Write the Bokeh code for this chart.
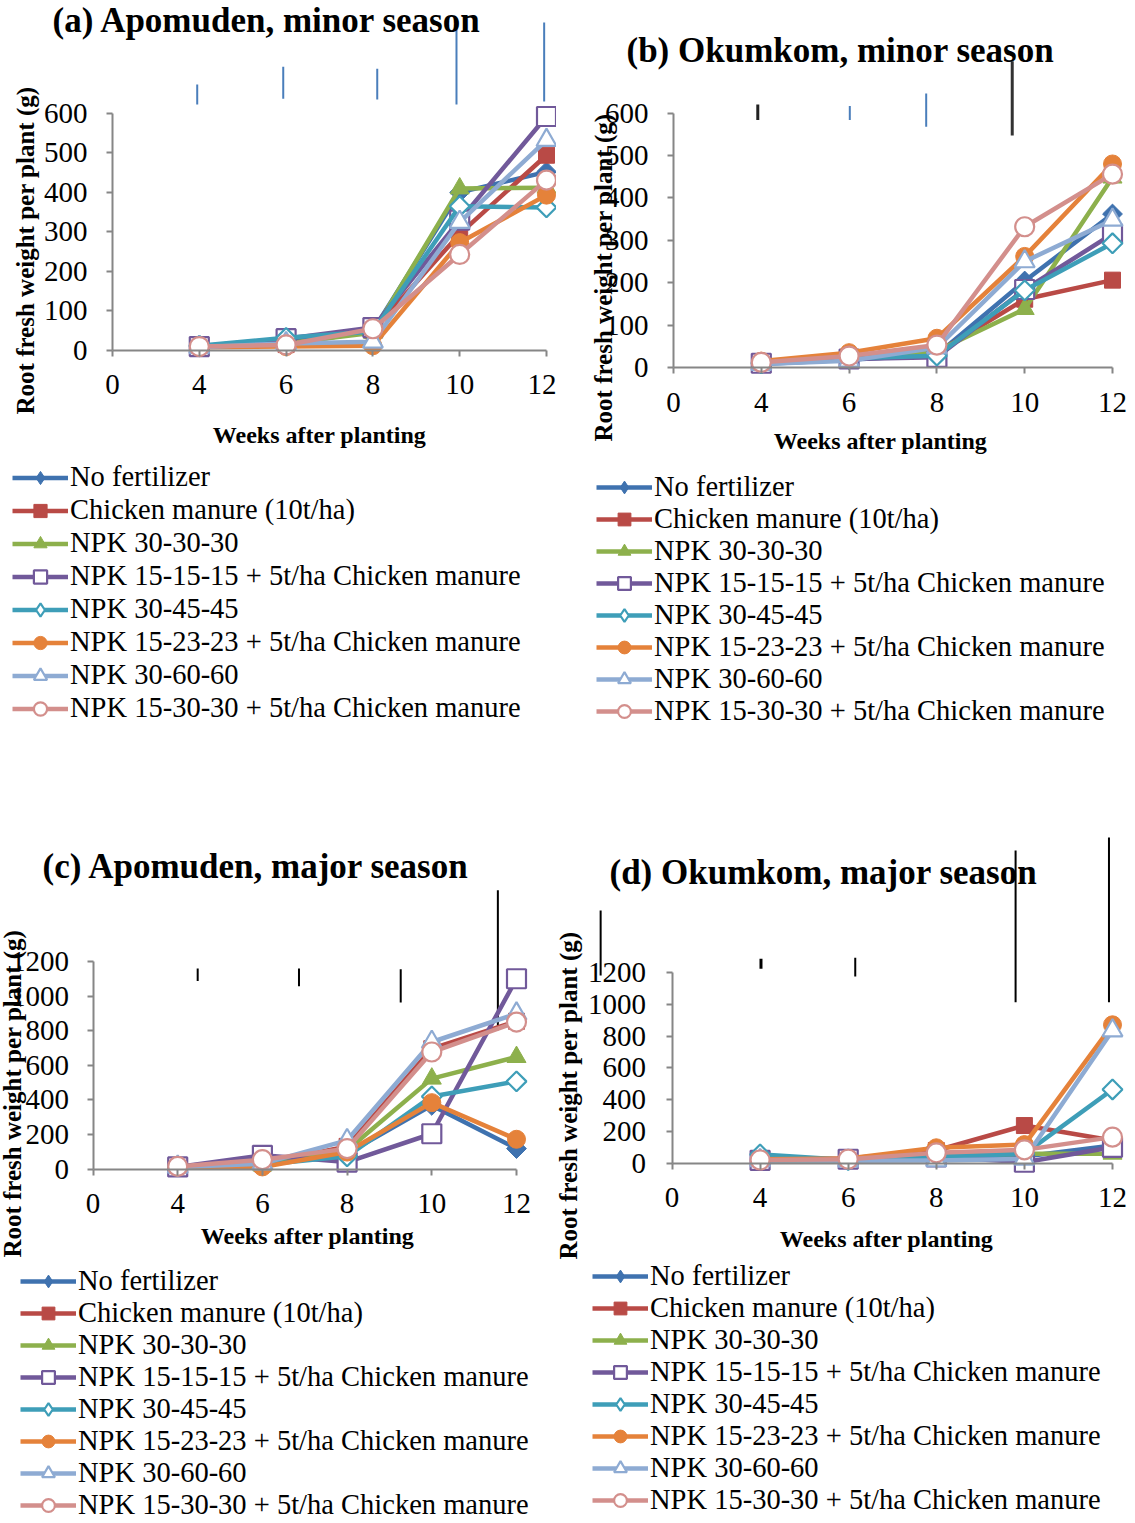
import math
from bokeh.plotting import figure
from bokeh.models import Range1d, FixedTicker, Label, Legend, LegendItem
from bokeh.layouts import column, row
from bokeh.embed import file_html
from bokeh.resources import INLINE

# ---------------- data ----------------
weeks = ["0", "4", "6", "8", "10", "12"]
sample_weeks = ["4", "6", "8", "10", "12"]

treatments = [
    "No fertilizer",
    "Chicken manure (10t/ha)",
    "NPK 30-30-30",
    "NPK 15-15-15 + 5t/ha Chicken manure",
    "NPK 30-45-45",
    "NPK 15-23-23 + 5t/ha Chicken manure",
    "NPK 30-60-60",
    "NPK 15-30-30 + 5t/ha Chicken manure",
]

# root fresh weight per plant (g), weeks 4, 6, 8, 10, 12
apomuden_minor = [
    [10, 20, 50, 400, 452],
    [10, 15, 50, 295, 494],
    [8, 18, 45, 410, 412],
    [10, 30, 58, 330, 592],
    [12, 32, 48, 365, 362],
    [8, 10, 12, 273, 393],
    [8, 18, 22, 325, 532],
    [10, 14, 55, 243, 431],
]
okumkom_minor = [
    [8, 18, 30, 204, 362],
    [12, 25, 35, 161, 206],
    [10, 22, 39, 138, 448],
    [10, 20, 24, 184, 315],
    [10, 22, 28, 182, 293],
    [15, 35, 69, 262, 480],
    [8, 16, 47, 250, 348],
    [12, 27, 53, 332, 456],
]
apomuden_major = [
    [15, 25, 89, 368, 118],
    [15, 30, 131, 696, 855],
    [12, 20, 108, 523, 648],
    [12, 79, 40, 204, 1101],
    [15, 25, 73, 420, 507],
    [15, 12, 98, 384, 172],
    [12, 31, 166, 735, 899],
    [15, 54, 118, 677, 850],
]
okumkom_major = [
    [20, 20, 50, 42, 111],
    [25, 30, 80, 237, 143],
    [18, 15, 50, 59, 60],
    [18, 25, 40, 6, 100],
    [55, 20, 40, 59, 464],
    [25, 30, 97, 117, 871],
    [18, 15, 17, 27, 835],
    [20, 25, 65, 84, 164],
]

# LSD bars (category position, lower and upper end in g)
apomuden_minor_lsd_x = [0.976, 1.967, 3.050, 3.963, 4.973]
apomuden_minor_lsd_lo = [622, 637, 635, 622, 630]
apomuden_minor_lsd_hi = [673, 718, 713, 830, 830]

okumkom_minor_lsd_x = [0.96, 2.008, 2.878, 3.858]
okumkom_minor_lsd_lo = [584, 584, 568, 547]
okumkom_minor_lsd_hi = [620, 617, 646, 722]

apomuden_major_lsd_x = [1.236, 2.432, 3.633, 4.78]
apomuden_major_lsd_lo = [1088, 1057, 963, 803]
apomuden_major_lsd_hi = [1160, 1161, 1156, 1613]

okumkom_major_lsd_x = [-0.81, 1.01, 2.08, 3.90, 4.96]
okumkom_major_lsd_lo = [1181, 1223, 1175, 1013, 1013]
okumkom_major_lsd_hi = [1590, 1286, 1293, 1968, 2050]

# ---------------- styles ----------------
colors = ["#3F72AF", "#B94A46", "#8DB04C", "#71599A", "#3E9EB8", "#E5823A", "#8EABD3", "#D38F8C"]
markers = ["square", "square", "triangle", "square", "square", "circle", "triangle", "circle"]
legend_markers = ["diamond", "square", "triangle", "square", "diamond", "circle", "triangle", "circle"]
angles = [math.pi / 4, 0, 0, 0, math.pi / 4, 0, 0, 0]
sizes = [14, 16, 19, 19, 14, 18, 20, 19]
filled = [True, True, True, False, False, True, False, False]

SERIF = "Liberation Serif"
AXIS_GRAY = "#868686"
LEG_FONT = 28.5

panels = [
    dict(values=apomuden_minor, lsd=(apomuden_minor_lsd_x, apomuden_minor_lsd_lo, apomuden_minor_lsd_hi),
         lsd_colors=["#4A7EBB"] * 5, lsd_widths=[2] * 5,
         w=556, h=762, ox=112, oy=350, xu=86.8, yu=0.3953, ymax=600, ystep=100,
         title="(a) Apomuden, minor season", tx=52, ty=20,
         ylab="Root fresh weight per plant (g)", ylx=25, yly=250,
         xlx=319, xly=434, ystand=19, xstand=18,
         leg_left=12, leg_first=477, leg_row=33),
    dict(values=okumkom_minor, lsd=(okumkom_minor_lsd_x, okumkom_minor_lsd_lo, okumkom_minor_lsd_hi),
         lsd_colors=["#222222", "#4A7EBB", "#4A7EBB", "#333333"], lsd_widths=[3, 2, 2, 3],
         w=579, h=762, ox=117, oy=367, xu=87.8, yu=0.424, ymax=600, ystep=100,
         title="(b) Okumkom, minor season", tx=70, ty=50,
         ylab="Root fresh weight per plant (g)", ylx=47, yly=277,
         xlx=324, xly=440, ystand=19, xstand=19,
         leg_left=40, leg_first=487, leg_row=32),
    dict(values=apomuden_major, lsd=(apomuden_major_lsd_x, apomuden_major_lsd_lo, apomuden_major_lsd_hi),
         lsd_colors=["#000000"] * 4, lsd_widths=[2] * 4,
         w=556, h=761, ox=92.5, oy=406.5, xu=84.7, yu=0.1728, ymax=1200, ystep=200,
         title="(c) Apomuden, major season", tx=42, ty=104,
         ylab="Root fresh weight  per plant (g)", ylx=12, yly=328,
         xlx=307, xly=473, ystand=18, xstand=19,
         leg_left=20, leg_first=519, leg_row=32),
    dict(values=okumkom_major, lsd=(okumkom_major_lsd_x, okumkom_major_lsd_lo, okumkom_major_lsd_hi),
         lsd_colors=["#000000"] * 5, lsd_widths=[2, 3, 2, 2, 2],
         w=579, h=761, ox=115.5, oy=400.7, xu=88.1, yu=0.1589, ymax=1200, ystep=200,
         title="(d) Okumkom,  major season", tx=53, ty=110,
         ylab="Root fresh weight per plant (g)", ylx=12, yly=333,
         xlx=330, xly=476, ystand=20, xstand=19,
         leg_left=36, leg_first=514, leg_row=32),
]


def make_panel(cfg):
    w, h = cfg["w"], cfg["h"]
    ox, oy, xu, yu = cfg["ox"], cfg["oy"], cfg["xu"], cfg["yu"]
    p = figure(width=w, height=h,
               x_range=Range1d(-ox / xu, (w - ox) / xu),
               y_range=Range1d((oy - h) / yu, oy / yu),
               output_backend="svg", toolbar_location=None, min_border=0)
    p.title.visible = False
    p.outline_line_color = None
    p.xgrid.visible = False
    p.ygrid.visible = False
    p.background_fill_color = "white"
    p.border_fill_color = "white"

    xa = p.xaxis[0]
    xa.fixed_location = 0
    xa.bounds = (0, len(weeks) - 1)
    xa.ticker = FixedTicker(ticks=list(range(len(weeks))))
    xa.major_label_overrides = {i: wk for i, wk in enumerate(weeks)}
    ya = p.yaxis[0]
    ya.fixed_location = 0
    ya.bounds = (0, cfg["ymax"])
    ya.ticker = FixedTicker(ticks=list(range(0, cfg["ymax"] + 1, cfg["ystep"])))
    for ax in (xa, ya):
        ax.axis_line_color = AXIS_GRAY
        ax.axis_line_width = 2
        ax.major_tick_line_color = AXIS_GRAY
        ax.major_tick_line_width = 2
        ax.major_tick_out = 6
        ax.major_tick_in = 0
        ax.minor_tick_line_color = None
        ax.major_label_text_font = SERIF
        ax.major_label_text_font_size = "29px"
        ax.major_label_text_color = "black"
    xa.major_label_standoff = cfg["xstand"]
    ya.major_label_standoff = cfg["ystand"]

    # LSD bars
    lx, llo, lhi = cfg["lsd"]
    p.segment(x0=lx, y0=llo, x1=lx, y1=lhi, line_color=cfg["lsd_colors"],
              line_width=cfg["lsd_widths"])

    xs = [weeks.index(wk) for wk in sample_weeks]
    items = []
    for i, name in enumerate(treatments):
        ys = cfg["values"][i]
        fill = colors[i] if filled[i] else "white"
        lw = 1 if filled[i] else 2.2
        lr = p.line(xs, ys, line_color=colors[i], line_width=4.5, line_join="round")
        p.scatter(xs, ys, marker=markers[i], size=sizes[i], angle=angles[i],
                  fill_color=fill, line_color=colors[i], line_width=lw)
        # legend key symbol (not drawn in the plot area)
        kr = p.scatter(xs, ys, marker=legend_markers[i], size=sizes[i],
                       fill_color=fill, line_color=colors[i], line_width=lw, visible=False)
        items.append(LegendItem(label=name, renderers=[lr, kr]))

    n = len(treatments)
    rh = cfg["leg_row"]
    leg_h = n * rh
    leg_top = cfg["leg_first"] - rh / 2
    leg = Legend(items=items, location=(cfg["leg_left"], h - leg_top - leg_h),
                 orientation="vertical", glyph_width=56, glyph_height=rh,
                 label_height=rh, spacing=0, padding=0, margin=0, label_standoff=2,
                 label_text_font=SERIF, label_text_font_size=f"{LEG_FONT}px",
                 label_text_color="black",
                 border_line_color=None, background_fill_alpha=0)
    p.add_layout(leg, "center")

    p.add_layout(Label(x=cfg["tx"], y=h - cfg["ty"], x_units="screen", y_units="screen",
                       text=cfg["title"], text_font=SERIF, text_font_style="bold",
                       text_font_size="35px", text_align="left", text_baseline="middle",
                       text_color="black"))
    p.add_layout(Label(x=cfg["xlx"], y=h - cfg["xly"], x_units="screen", y_units="screen",
                       text="Weeks after planting", text_font=SERIF, text_font_style="bold",
                       text_font_size="24px", text_align="center", text_baseline="middle",
                       text_color="black"))
    p.add_layout(Label(x=cfg["ylx"], y=h - cfg["yly"], x_units="screen", y_units="screen",
                       text=cfg["ylab"], text_font=SERIF, text_font_style="bold",
                       text_font_size="25px", text_align="center", text_baseline="middle",
                       angle=math.pi / 2, text_color="black"))
    return p


figs = [make_panel(c) for c in panels]
p = column(row(figs[0], figs[1]), row(figs[2], figs[3]))

open("out.html", "w").write(file_html(p, INLINE))
